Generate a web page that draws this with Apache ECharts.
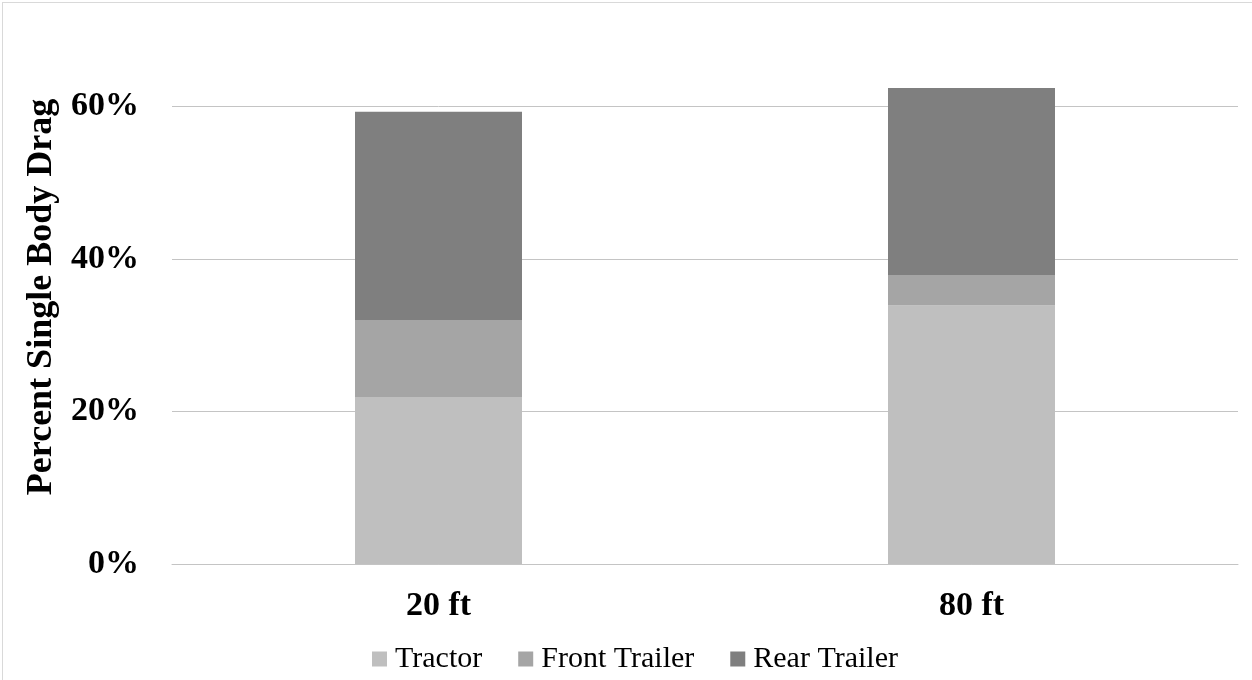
<!DOCTYPE html>
<html>
<head>
<meta charset="utf-8">
<script src="https://cdn.jsdelivr.net/npm/echarts@6/dist/echarts.min.js"></script>
<style>
  html, body { margin: 0; padding: 0; background: #fff; }
  #chart { width: 1252px; height: 680px; }
  .frame {
    position: absolute; left: 2px; top: 2px; width: 1260px; height: 700px;
    border: 1px solid #d9d9d9; pointer-events: none;
  }
</style>
</head>
<body>
<div id="chart"></div>
<div class="frame"></div>
<script>
// gap lengths
const categories = ['20 ft', '80 ft']
// share of single body drag, in percent
const tractor = [21.9, 33.9]
const frontTrailer = [10.1, 4.0]
const rearTrailer = [27.3, 24.5]

const serif = '"Liberation Serif", "Times New Roman", serif'

const chart = echarts.init(document.getElementById('chart'))

function barSeries(name, data, color) {
  return {
    name: name,
    type: 'bar',
    stack: 'drag',
    barWidth: 167,
    data: data,
    itemStyle: { color: color }
  }
}

const option = {
  animation: false,
  grid: {
    left: 172,
    right: 14,
    top: 30,
    bottom: 116
  },
  legend: {
    data: ['Tractor', 'Front Trailer', 'Rear Trailer'],
    top: 639,
    left: 367,
    icon: 'rect',
    itemWidth: 15,
    itemHeight: 15,
    itemGap: 36,
    textStyle: {
      fontFamily: serif,
      fontSize: 30,
      color: '#000',
      padding: [0, 0, 0, 3]
    }
  },
  xAxis: {
    type: 'category',
    data: categories,
    axisLine: { lineStyle: { color: '#c4c4c4' } },
    axisTick: { show: false },
    axisLabel: {
      margin: 25,
      fontFamily: serif,
      fontSize: 34,
      fontWeight: 'bold',
      color: '#000'
    }
  },
  yAxis: {
    type: 'value',
    min: 0,
    max: 70,
    interval: 20,
    name: 'Percent Single Body Drag',
    nameLocation: 'middle',
    nameGap: 100,
    nameTextStyle: {
      fontFamily: serif,
      fontSize: 36,
      fontWeight: 'bold',
      color: '#000'
    },
    axisLine: { show: false },
    axisTick: { show: false },
    splitLine: { showMaxLine: false, lineStyle: { color: '#c4c4c4' } },
    axisLabel: {
      margin: 33,
      showMaxLabel: false,
      fontFamily: serif,
      fontSize: 34,
      fontWeight: 'bold',
      color: '#000',
      formatter: '{value}%'
    }
  },
  series: [
    barSeries('Tractor', tractor, '#bfbfbf'),
    barSeries('Front Trailer', frontTrailer, '#a5a5a5'),
    barSeries('Rear Trailer', rearTrailer, '#7f7f7f')
  ]
}

chart.setOption(option)
</script>
</body>
</html>
